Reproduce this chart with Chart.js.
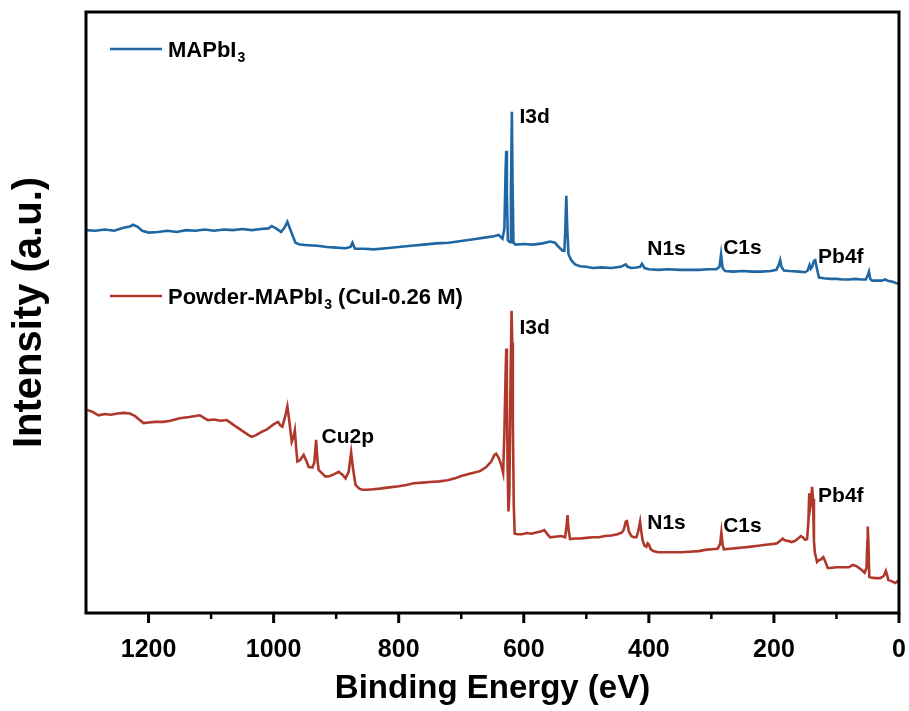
<!DOCTYPE html>
<html>
<head>
<meta charset="utf-8">
<script src="https://cdn.jsdelivr.net/npm/chart.js@4/dist/chart.umd.min.js"></script>
<style>
html,body{margin:0;padding:0;background:#fff;}
#wrap{width:909px;height:711px;position:relative;}
</style>
</head>
<body>
<div id="wrap"><canvas id="c"></canvas></div>
<script>
// ---- data (binding energy in eV, intensity in arbitrary units) ----
const blueEV = [1300,1285,1270,1255,1240,1230,1225,1218,1210,1200,1185,1170,1155,1140,1125,1110,1095,1080,1065,1050,1035,1020,1008,1003,995,988,982,978,974,970,965,958,945,930,915,900,885,877,874,870,855,840,820,800,780,760,740,720,700,680,660,648,640,634,631,629,628,627,625.5,622,620.5,619,618,616.5,613,600,585,570,558,550,544,538,535,533.5,532,530.5,528.5,524,518,510,500,490,475,460,445,437,434,428,420,414,411,407,400,385,370,350,335,320,305,292,287,284.5,282,278,265,250,235,220,205,196,192,190,188,184,175,160,150,146,143,141,139,136,134,131,128,120,110,100,90,80,70,60,53,50,48,46,43,35,28,22,18,10,5,0];
const blueI = [63.7,63.6,63.8,63.6,64.1,64.3,64.6,64.3,63.6,63.3,63.4,63.6,63.4,63.7,63.6,63.8,63.6,63.8,63.7,63.9,63.7,63.9,64.0,64.4,63.9,63.4,64.2,65.1,64.0,62.9,61.6,61.3,61.2,61.1,60.9,60.8,60.7,60.9,61.6,60.6,60.6,60.5,60.7,60.9,61.1,61.3,61.5,61.6,61.9,62.2,62.5,62.7,62.9,62.3,64.0,74.0,76.9,70.0,62.0,61.7,70.0,83.4,72.0,61.6,61.3,61.4,61.3,61.5,61.8,61.6,60.9,60.3,60.3,64.0,69.4,64.0,59.7,58.7,58.0,57.7,57.6,57.4,57.5,57.4,57.6,58.0,57.6,57.4,57.5,57.6,58.1,57.4,57.2,57.1,57.2,57.1,57.1,57.1,57.2,57.2,57.6,59.7,57.4,56.9,56.8,56.9,56.8,56.8,56.9,57.1,58.0,58.7,57.6,57.0,56.9,56.8,56.7,57.0,57.9,57.3,57.6,58.6,58.7,57.2,55.8,55.7,55.6,55.6,55.5,55.5,55.6,55.5,55.5,56.2,56.8,55.6,55.3,55.3,55.3,55.5,55.3,55.1,54.9,54.8];

const redEV = [1298,1290,1280,1270,1260,1250,1240,1230,1222,1215,1208,1200,1190,1176,1165,1150,1135,1118,1112,1105,1095,1085,1075,1068,1060,1050,1040,1035,1028,1020,1010,1000,993,989,986,982,978,975,971,968,966,964,962,958,952,948,944,938,935,932,930,928,922,917,910,903,896,890,885,880,876,873,869,863,858,850,840,830,815,800,788,776,762,750,735,722,710,700,685,670,660,652,647,644,640,636,633,631,629,628,627,626,624.5,623,621,619.5,618.5,617.5,616,614.5,610,603,595,588,580,572,567,563,558,550,540,534,531.5,530,528.5,526,518,510,500,490,480,470,460,450,443,440,437,435,432,428,424,420,417,414,412,410,407,404,402,400,397,393,385,375,360,350,335,320,310,300,290,286,284,282,280,270,260,250,240,225,210,200,195,190,186,183,178,172,166,160,157,154,150,147,145,143.5,142,140.5,139,137.5,136,134.5,131,128,125,121,118,114,110,100,90,80,74,68,60,55,52,50.5,50,49,47.5,45,38,30,24,21,19,17,12,6,2,0];
const redI = [33.8,33.5,32.9,33.1,33.0,33.2,33.3,33.2,32.8,32.2,31.6,31.7,31.8,31.8,32.0,32.4,32.6,32.9,32.5,32.1,32.2,32.0,32.1,31.6,31.0,30.3,29.6,29.3,29.6,30.1,30.6,31.4,31.8,31.2,31.0,32.5,34.4,32.0,28.5,29.4,30.4,27.5,25.2,25.4,26.3,25.4,24.3,24.2,25.0,28.8,25.5,23.8,23.2,22.7,22.8,23.1,23.5,23.0,22.4,23.5,26.7,24.0,21.3,20.7,20.5,20.5,20.6,20.7,20.9,21.1,21.3,21.6,21.7,21.8,21.9,22.1,22.4,22.8,23.2,23.6,24.3,25.2,26.3,26.5,25.8,24.6,23.3,30.0,40.0,44.0,38.0,25.0,16.9,20.0,40.0,50.3,45.0,32.0,18.0,13.2,13.1,13.1,13.3,13.2,13.4,13.6,13.8,13.2,12.6,12.7,12.8,12.6,14.5,16.3,14.0,12.3,12.4,12.4,12.5,12.6,12.6,12.8,12.9,13.1,13.4,13.9,15.2,15.3,13.6,12.8,12.6,12.6,13.6,15.2,13.5,12.1,11.2,11.0,11.6,11.4,10.6,10.3,10.1,10.1,10.1,10.1,10.2,10.3,10.5,10.6,10.7,11.5,13.4,11.3,10.6,10.7,10.8,10.9,11.0,11.2,11.4,11.5,11.6,12.0,12.4,12.1,12.0,11.8,12.0,12.5,12.8,12.6,12.2,12.3,15.0,19.9,17.5,18.5,21.0,19.0,12.0,10.0,8.5,8.8,8.9,9.3,8.6,7.5,7.5,7.6,7.6,7.6,8.0,7.8,7.2,6.7,7.5,12.0,14.4,12.0,6.0,5.9,5.8,5.8,6.2,7.0,6.3,5.5,5.3,5.0,5.3,5.5];

const seriesNames = ['MAPbI', 'Powder-MAPbI'];
const xTicksMinor = [100,300,500,700,900,1100];

// peak labels: [text, eV, intensity, series]
const peakLabels = [
  ['I3d', 607, 81.5, 0], ['N1s', 402.6, 59.6, 0], ['C1s', 281.2, 59.7, 0], ['Pb4f', 129.4, 58.2, 0],
  ['I3d', 607, 46.4, 1], ['Cu2p', 923.3, 28.3, 1], ['N1s', 402.6, 14.0, 1], ['C1s', 281.2, 13.4, 1], ['Pb4f', 129.4, 18.5, 1]
];

const BLUE = '#1f67a3';
const RED = '#b0382b';
const FONT = "'Liberation Sans', Arial, sans-serif";

function pts(xs, ys){ return xs.map((x,i)=>({x:x, y:ys[i]})); }

const deco = {
  id:'deco',
  afterDraw(chart){
    const ctx = chart.ctx, a = chart.chartArea, xs = chart.scales.x;
    ctx.save();
    ctx.strokeStyle = '#000';
    ctx.lineWidth = 3;
    xs.ticks.forEach(t=>{
      const px = xs.getPixelForValue(t.value);
      ctx.beginPath(); ctx.moveTo(px, a.bottom); ctx.lineTo(px, a.bottom+10); ctx.stroke();
    });
    ctx.lineWidth = 2.5;
    xTicksMinor.forEach(v=>{
      const px = xs.getPixelForValue(v);
      ctx.beginPath(); ctx.moveTo(px, a.bottom); ctx.lineTo(px, a.bottom+6); ctx.stroke();
    });
    ctx.lineWidth = 3;
    ctx.strokeRect(a.left, a.top, a.right-a.left, a.bottom-a.top);
    const legends = [[seriesNames[0], '3', '', BLUE, 49], [seriesNames[1], '3', ' (CuI-0.26 M)', RED, 296]];
    legends.forEach(l=>{
      ctx.strokeStyle = l[3]; ctx.lineWidth = 2.6;
      ctx.beginPath(); ctx.moveTo(a.left+24, l[4]); ctx.lineTo(a.left+76, l[4]); ctx.stroke();
      ctx.fillStyle = '#000'; ctx.textBaseline = 'alphabetic'; ctx.textAlign = 'left';
      ctx.font = 'bold 22px ' + FONT;
      let x = a.left+82;
      const base = l[4]+8;
      ctx.fillText(l[0], x, base); x += ctx.measureText(l[0]).width;
      ctx.font = 'bold 14px ' + FONT;
      ctx.fillText(l[1], x+1, base+5); x += ctx.measureText(l[1]).width + 1;
      ctx.font = 'bold 22px ' + FONT;
      ctx.fillText(l[2], x, base);
    });
    ctx.font = 'bold 21px ' + FONT; ctx.fillStyle = '#000';
    peakLabels.forEach(p=>{
      ctx.fillText(p[0], xs.getPixelForValue(p[1]), chart.scales.y.getPixelForValue(p[2]));
    });
    ctx.restore();
  }
};

new Chart(document.getElementById('c'), {
  type:'line',
  data:{ datasets:[
    {label:'MAPbI3', data:pts(blueEV, blueI), borderColor:BLUE, borderWidth:2.6, pointRadius:0, tension:0},
    {label:'Powder-MAPbI3 (CuI-0.26 M)', data:pts(redEV, redI), borderColor:RED, borderWidth:2.6, pointRadius:0, tension:0}
  ]},
  options:{
    responsive:true, maintainAspectRatio:false, animation:false,
    layout:{padding:{left:0, right:10, top:12, bottom:0}},
    plugins:{legend:{display:false}, tooltip:{enabled:false}},
    scales:{
      x:{type:'linear', min:0, max:1300, reverse:true,
        ticks:{stepSize:200, includeBounds:false, color:'#000', padding:0, maxRotation:0,
          callback:(v)=>String(v),
          font:{family:FONT, size:25, weight:'bold'}},
        grid:{display:true, drawOnChartArea:false, drawTicks:true, tickLength:22, tickWidth:0, tickColor:'rgba(0,0,0,0)'},
        border:{display:false},
        title:{display:true, text:'Binding Energy (eV)', color:'#000', padding:{top:7, bottom:6},
          font:{family:FONT, size:33, weight:'bold', lineHeight:1.0}}
      },
      y:{min:0, max:100, ticks:{display:false}, grid:{display:false, drawTicks:false}, border:{display:false},
        title:{display:true, text:'Intensity (a.u.)', color:'#000', padding:{top:6, bottom:32},
          font:{family:FONT, size:40, weight:'bold'}}
      }
    }
  },
  plugins:[deco]
});
</script>
</body>
</html>
